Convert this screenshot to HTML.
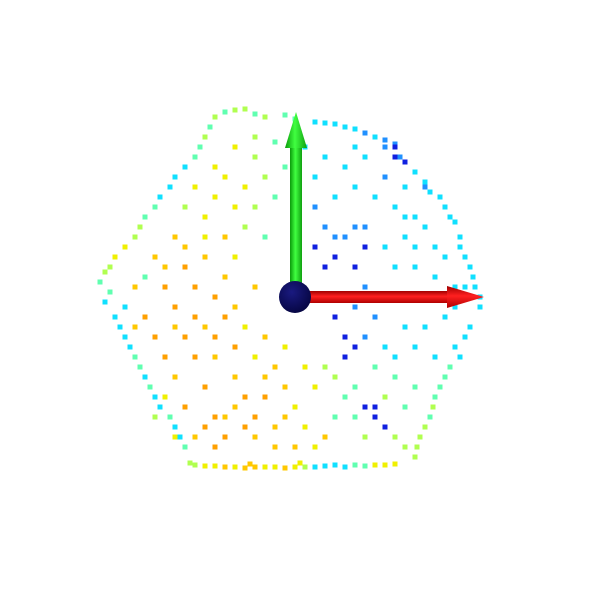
<!DOCTYPE html>
<html><head><meta charset="utf-8"><style>
html,body{margin:0;padding:0;background:#fff;width:600px;height:600px;overflow:hidden}
svg{display:block}
</style></head><body>
<svg id="chart" width="600" height="600" viewBox="0 0 600 600">
<defs>
<linearGradient id="gGreen" x1="0" x2="1" y1="0" y2="0"><stop offset="0" stop-color="#0a9a0a"/><stop offset="0.45" stop-color="#40ff40"/><stop offset="1" stop-color="#10a010"/></linearGradient>
<linearGradient id="gRed" x1="0" x2="0" y1="0" y2="1"><stop offset="0" stop-color="#a00000"/><stop offset="0.45" stop-color="#ff2020"/><stop offset="1" stop-color="#b00000"/></linearGradient>
<radialGradient id="gBall" cx="0.4" cy="0.35" r="0.7"><stop offset="0" stop-color="#1a1a80"/><stop offset="1" stop-color="#050540"/></radialGradient>
</defs>
<g id="points"></g>
<g id="axes">
<rect x="290" y="140" width="12" height="157" fill="url(#gGreen)"/>
<polygon points="285,148 307,148 296,112" fill="url(#gGreen)"/>
<rect x="295" y="291" width="155" height="12" fill="url(#gRed)"/>
<polygon points="447,286 447,308 484,297" fill="url(#gRed)"/>
<circle cx="295" cy="297" r="16" fill="url(#gBall)"/>
</g>
</svg>
<script>
const palette = ["#1020e0","#2090ff","#10e0ff","#60ffb0","#b0ff50","#f0f000","#ffc800","#ffa000"];
const cloud = [
[-7,18.5,3],[-5,18.8,4],[-3,18,4],[-1,18.2,3],[2,17.5,2],[4,17.3,2],[6,16.8,2],[8,16,2],[10,15.3,1],
[9,15,1],[10.5,14,1],[12,12.5,2],[13.5,10.5,2],[15,9,2],[16,7.5,2],
[16.5,6,2],[17,4,2],[17.8,2,2],[18.5,0,2],
[17.5,-3,2],[16,-5,2],[15,-8,3],[14,-10,3],[13.5,-12,3],[12.5,-14,4],[12,-16,4],
[-10,-16.8,4],[-8,-16.9,5],[-6,-17,5],[-4,-17,6],[-2,-17,5],[0,-17,5],[2,-17,2],[4,-16.8,2],[6,-16.8,3],[8,-16.8,5],[10,-16.7,5],
[-11,-15,3],[-12,-13,2],[-13.5,-11,2],[-14.5,-9,3],[-15.5,-7,3],[-16.5,-5,2],[-17.5,-3,2],[-19,-0.5,2],[-19.5,1.5,3],
[-18.5,3,4],[-17,5,5],[-15.5,7,4],[-14,9,3],[-12.5,11,2],[-11,13,2],[-9.5,15,3],[-8.5,17,3],
[-6,15,5],[-4,14,4],[-2,15.5,3],[-7,12,5],[-5,11,5],[-3,12,4],[-8,10,5],[-6,9,5],[-4,9,4],[-10,11,5],[-9,8,5],[-11,9,4],[-2,10,3],[-1,13,3],[-5,7,4],[-7,6,6],[-3,6,3],
[1,15,2],[3,14,2],[5,13,2],[7,14,2],[9,12,1],[6,11,2],[4,10,2],[2,9,1],[8,10,2],[10,9,2],[12,8,2],[11,6,2],[13,7,2],[14,5,2],[7,7,1],[5,6,1],[9,5,2],[3,7,1],[2,5,0],[4,4,0],[6,3,0],[7,1,1],[10,3,2],[12,3,2],[14,2,2],[16,1,2],[10,0,2],[13,0,2],[15,-2,2],[11,-3,2],[8,-2,1],[6,-1,1],[5,-4,0],[6,-5,0],[9,-5,2],[12,-5,2],[14,-6,2],[8,-7,3],[10,-8,3],[6,-9,3],[9,-10,4],[11,-11,3],[8,-12,0],[9,-13,0],[10,-14,4],[7,-14,4],[4,-12,3],[5,-10,3],[3,-7,4],[12,-9,3],[13,-13,4],[11,-15,4],[15,4,2],[16,-1,2],[17,1,2],[11,11,2],[13,11,1],[10,14,0],
[-12,6,6],[-14,4,6],[-16,1,6],[-13,1,7],[-11,3,7],[-9,4,6],[-10,1,7],[-8,0,7],[-7,2,6],[-12,-1,7],[-15,-2,7],[-14,-4,7],[-16,-3,6],[-11,-4,7],[-9,-3,6],[-13,-6,7],[-10,-6,7],[-8,-6,6],[-12,-8,6],[-9,-9,7],[-6,-8,6],[-11,-11,7],[-8,-12,7],[-6,-11,6],[-5,-13,7],[-7,-14,7],[-4,-14,6],[-2,-13,6],[-3,-10,7],[-1,-9,6],[0,-11,5],[-2,-7,6],[-4,-6,5],[-5,-3,5],[-6,-1,6],[-3,-4,6],[-1,-5,5],[2,-9,5],[1,-13,5],[3,-14,6],[-10,-14,6],[-13,-10,5],[-15,-8,5],[-14,-12,4],[-12,-14,5],[-6,4,5],[-7,-2,7],[-4,1,6],[-5,-10,7],[-8,-15,7],[0,-15,6],[2,-15,5],[-2,-15,6],[-16,-6,2],[-17,-1,2],[-15,2,3],
[-9,-16.9,5],[-7,-17,6],[-5,-17.1,6],[-3,-17,5],[-1,-17.1,6],[1,-17,4],[3,-16.9,2],[5,-17,2],[7,-16.9,3],[9,-16.8,5],[-10.5,-16.6,4],[0.5,-16.6,5],[-4.5,-16.7,6],
[-11.5,-14,2],[-12.5,-12,3],[-14,-10,2],[-15,-8,2],[-16,-6,3],[-17,-4,2],[-18,-2,2],[-18.5,0.5,3],[-19,2.5,4],[-18,4,5],[-16,6,4],[-15,8,3],[-13.5,10,2],[-12,12,2],[-10,14,3],[-9,16,4],[-8,18,4],
[-6,18.7,4],[-4,18.3,3],[0,17.8,3],[3,17.4,2],[5,17,2],[7,16.4,1],[9,15.7,1],[10,15,0],[11,13.5,0],
[13,11.5,2],[14.5,10,2],[15.5,8,2],[16.5,5,2],[17.5,3,2],[18,1,2],[18.5,-1,2],[17,-4,2],[16.5,-6,2],[15.5,-7,3],[14.5,-9,3],[13.8,-11,4],[13,-13,4],[12.2,-15,4],
[7,5,0],[4,6,1],[3,3,0],[6,7,1],[5,-6,0],[7,-11,0],[8,-11,0],[6,-12,3],[-6,-5,7],[-8,-4,7],[-10,-2,7],[-12,-3,6],[-9,-13,7],[-7,-12,6],[-4,-12,7],[-3,-8,6],[-11,5,6],[-13,3,6],[-9,6,5],[-8,13,5],[-4,16,4],[0,15,3],[2,12,2],[6,15,2],[11,8,2],[12,5,2],[15,0,2],[13,-3,2],[10,-6,2],[7,-4,1],[4,-2,0],[4,-8,4],[1,-7,5],[-1,-12,6]
];
const pointX = cloud.map(p => p[0]);
const pointY = cloud.map(p => p[1]);
const pointC = cloud.map(p => p[2]);
function xScale(v){ return 295 + v * 10; }
function yScale(v){ return 297 - v * 10; }
const g = document.getElementById('points');
const NS = "http://www.w3.org/2000/svg";
for (let i = 0; i < pointX.length; i++) {
  const r = document.createElementNS(NS, 'rect');
  r.setAttribute('x', xScale(pointX[i]) - 2.5);
  r.setAttribute('y', yScale(pointY[i]) - 2.5);
  r.setAttribute('width', 5);
  r.setAttribute('height', 5);
  r.setAttribute('fill', palette[pointC[i]]);
  
  
  g.appendChild(r);
}
</script>
</body></html>
